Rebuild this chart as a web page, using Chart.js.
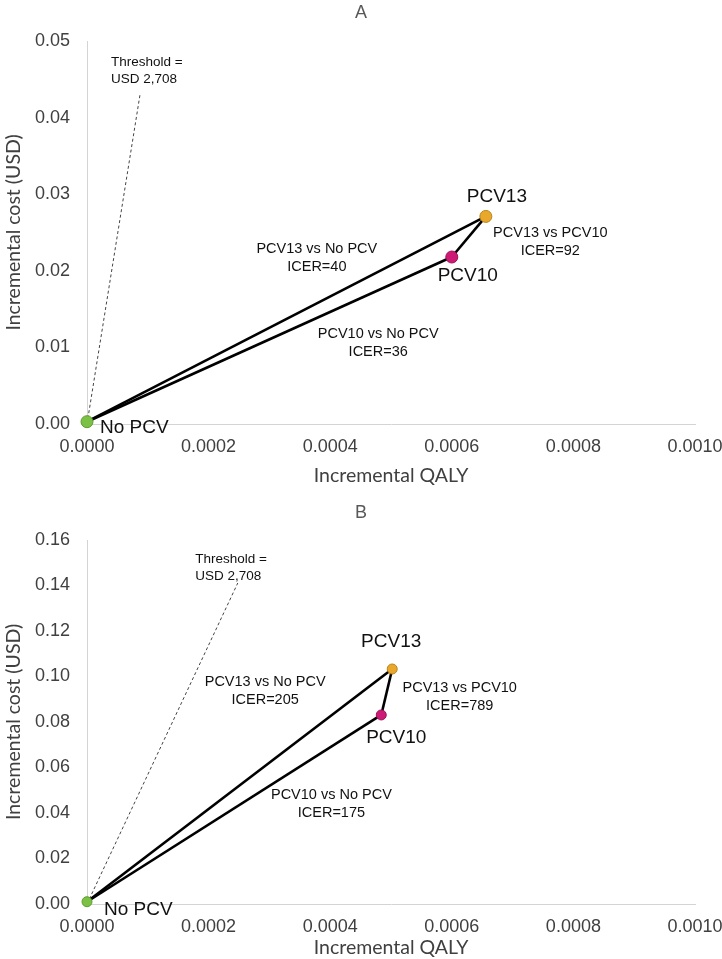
<!DOCTYPE html>
<html><head><meta charset="utf-8">
<script src="https://cdn.jsdelivr.net/npm/chart.js@4.4.0/dist/chart.umd.min.js"></script>
<style>
html,body{margin:0;padding:0;background:#fff;overflow:hidden;}
#wrapA{position:absolute;left:0;top:0;width:722px;height:490px;}
#wrapB{position:absolute;left:0;top:490px;width:722px;height:469px;}
canvas{display:block;}
</style></head><body>
<div id="wrapA"><canvas id="chartA" width="722" height="490"></canvas></div>
<div id="wrapB"><canvas id="chartB" width="722" height="469"></canvas></div>
<script>
// ---------- data ----------
const strategies = ['No PCV', 'PCV10', 'PCV13'];
const qalyA = [0.0000, 0.000600, 0.000656];
const costA = [0.0003, 0.0218, 0.0271];
const qalyB = [0.0000, 0.000484, 0.000502];
const costB = [0.0010, 0.0831, 0.1033];
// comparisons: [label, index of strategy, index of comparator]
const comparisonNames = ['PCV13 vs No PCV', 'PCV10 vs No PCV', 'PCV13 vs PCV10'];
const comparisonPairs = [[2, 0], [1, 0], [2, 1]];
const icerA = [40, 36, 92];
const icerB = [205, 175, 789];
const thresholdText = ['Threshold =', 'USD 2,708'];
const thresholdEndA = [0.0000872, 0.0430];
const thresholdEndB = [0.000248, 0.1411];
const xTickValues = [0, 0.0002, 0.0004, 0.0006, 0.0008, 0.0010];
const yTickValuesA = [0, 0.01, 0.02, 0.03, 0.04, 0.05];
const yTickValuesB = [0, 0.02, 0.04, 0.06, 0.08, 0.10, 0.12, 0.14, 0.16];

// ---------- styles ----------
const ARIAL = "'Liberation Sans', Arial, sans-serif";
const CAL = "Lato, 'Open Sans', sans-serif";
const pointFill = ['#7BC143', '#CC1A75', '#E9A82B'];
const pointEdge = ['#5E9B2E', '#9C1358', '#B98419'];

const textPlugin = {
  id: 'textLabels',
  afterDatasetsDraw(chart, args, opts) {
    const {ctx} = chart;
    const xs = chart.scales.x, ys = chart.scales.y;
    ctx.save();
    (opts.items || []).forEach(it => {
      const px = xs.getPixelForValue(it.x) + (it.dx || 0);
      const py = ys.getPixelForValue(it.y) + (it.dy || 0);
      ctx.font = it.font;
      ctx.fillStyle = it.color || '#000';
      ctx.textAlign = it.align || 'center';
      ctx.textBaseline = 'middle';
      it.lines.forEach((ln, i) => {
        ctx.fillText(ln, px, py + (i - (it.lines.length - 1) / 2) * it.lineHeight);
      });
    });
    ctx.restore();
  }
};

function makeChart(id, cfg) {
  const pts = strategies.map((s, i) => ({x: cfg.qaly[i], y: cfg.cost[i]}));
  const datasets = [];
  datasets.push({
    label: 'strategies', data: pts, showLine: false,
    pointRadius: cfg.pointRadius, pointHoverRadius: cfg.pointRadius,
    pointBackgroundColor: pointFill, pointBorderColor: pointEdge, pointBorderWidth: 1,
    order: 0, clip: false
  });
  comparisonPairs.forEach((p, k) => {
    datasets.push({
      label: comparisonNames[k],
      data: [pts[p[1]], pts[p[0]]],
      showLine: true, borderColor: '#000', borderWidth: 2.6,
      pointRadius: 0, order: 1, clip: false
    });
  });
  datasets.push({
    label: 'threshold',
    data: [{x: 0, y: 0}, {x: cfg.thr[0], y: cfg.thr[1]}],
    showLine: true, borderColor: '#444', borderWidth: 1, borderDash: [3, 2.5],
    pointRadius: 0, order: 2, clip: false
  });

  const items = [];
  strategies.forEach((s, i) => {
    const o = cfg.nameOffsets[i];
    items.push({x: cfg.qaly[i], y: cfg.cost[i], dx: o[0], dy: o[1], align: o[2] || 'center',
      lines: [s], font: `19px ${ARIAL}`, lineHeight: 20, color: '#111'});
  });
  comparisonNames.forEach((n, k) => {
    const a = cfg.compAnchors[k];
    items.push({x: a[0], y: a[1], lines: [n, 'ICER=' + cfg.icer[k]],
      font: `14.5px ${ARIAL}`, lineHeight: 18, color: '#111'});
  });
  items.push({x: cfg.thrLabel[0], y: cfg.thrLabel[1], align: 'left', lines: thresholdText,
    font: `13.5px ${ARIAL}`, lineHeight: 17, color: '#111'});

  return new Chart(document.getElementById(id), {
    type: 'scatter',
    data: {datasets},
    plugins: [textPlugin],
    options: {
      responsive: false, animation: false, devicePixelRatio: 1,
      layout: {padding: {left: 0, right: 0, top: 0, bottom: 0}},
      plugins: {
        legend: {display: false}, tooltip: {enabled: false},
        title: {display: true, text: cfg.title, color: '#595959',
          font: {family: ARIAL, size: 18, weight: 'normal'},
          padding: {top: cfg.titlePadTop, bottom: cfg.titlePadBottom}},
        textLabels: {items}
      },
      scales: {
        x: {
          type: 'linear', min: 0, max: 0.001,
          afterBuildTicks: s => { s.ticks = xTickValues.map(v => ({value: v})); },
          ticks: {callback: v => Number(v).toFixed(4), color: '#404040',
            font: {family: ARIAL, size: 18}, padding: 12, maxRotation: 0, autoSkip: false},
          grid: {display: false, drawTicks: false},
          border: {display: true, color: '#d4d4d4', width: 1},
          title: {display: true, text: 'Incremental QALY', color: '#404040',
            font: {family: CAL, size: 19.5}, padding: {top: 0, bottom: cfg.xTitlePadBottom}},
          afterFit: s => { s.height = cfg.xAxisHeight; s.paddingRight = 27; s.paddingLeft = 0; }
        },
        y: {
          type: 'linear', min: 0, max: cfg.yMax,
          afterBuildTicks: s => { s.ticks = cfg.yTicks.map(v => ({value: v})); },
          ticks: {callback: v => Number(v).toFixed(2), color: '#404040',
            font: {family: ARIAL, size: 18}, padding: 17},
          grid: {display: false, drawTicks: false},
          border: {display: true, color: '#d4d4d4', width: 1},
          title: {display: true, text: 'Incremental cost (USD)', color: '#404040',
            font: {family: CAL, size: 19.5}, padding: {top: 2, bottom: 0}},
          afterFit: s => { s.width = 87; }
        }
      }
    }
  });
}

makeChart('chartA', {
  title: 'A', qaly: qalyA, cost: costA, icer: icerA, thr: thresholdEndA,
  yMax: 0.05, yTicks: yTickValuesA, pointRadius: 6,
  titlePadTop: 2, titlePadBottom: 17.4, xAxisHeight: 66, xTitlePadBottom: 3,
  nameOffsets: [[13, 6, 'left'], [16, 19], [11, -20]],
  compAnchors: [[0.000378, 0.02167], [0.000479, 0.01057], [0.000762, 0.02376]],
  thrLabel: [0.0000395, 0.0461]
});
makeChart('chartB', {
  title: 'B', qaly: qalyB, cost: costB, icer: icerB, thr: thresholdEndB,
  yMax: 0.16, yTicks: yTickValuesB, pointRadius: 5,
  titlePadTop: 12, titlePadBottom: 16.4, xAxisHeight: 55, xTitlePadBottom: 0,
  nameOffsets: [[17, 8, 'left'], [15, 23], [-1, -27]],
  compAnchors: [[0.000293, 0.0936], [0.000402, 0.0440], [0.000613, 0.0910]],
  thrLabel: [0.000178, 0.1477]
});
</script>
</body></html>
